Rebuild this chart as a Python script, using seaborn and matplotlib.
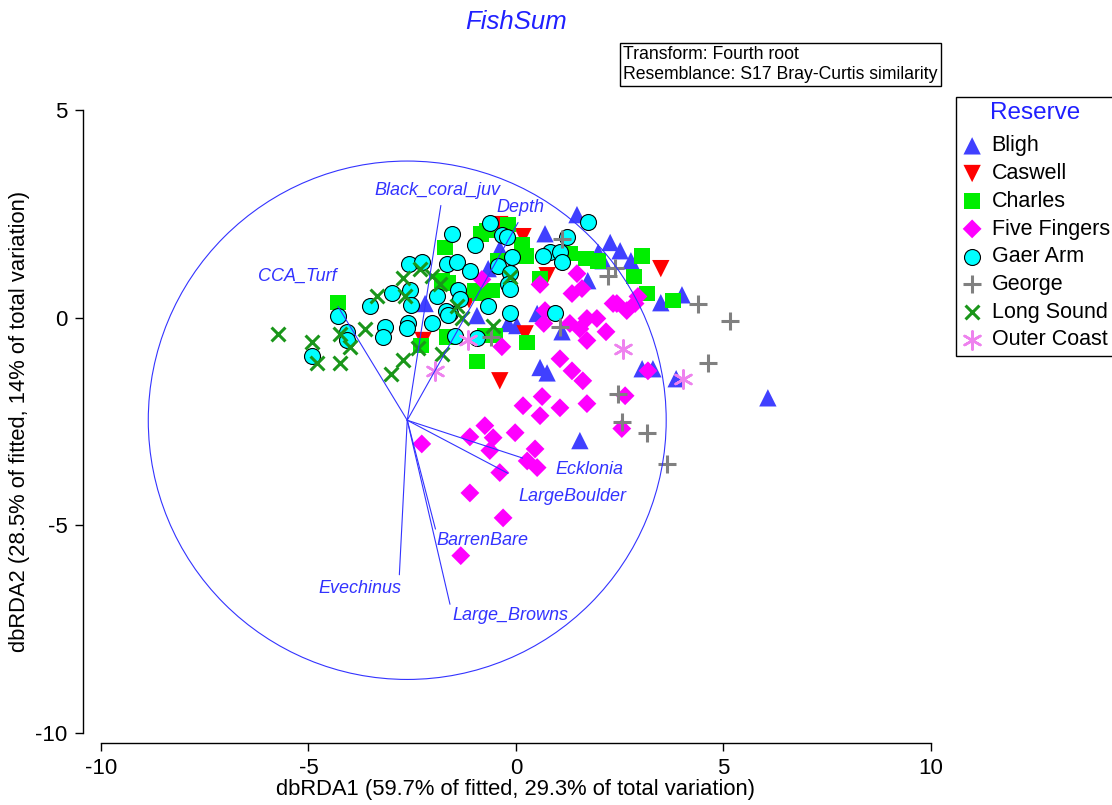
import matplotlib
matplotlib.use("Agg")
import matplotlib.pyplot as plt
from matplotlib.patches import Circle
import pandas as pd
import seaborn as sns

# dbRDA sample scores, one pair of lists per reserve
bligh_x = [-2.19, -0.94, -0.39, -0.67, -0.19, 0.02, 0.51, 1.47, 0.70, 2.27, 2.51, 2.77, 2.10,
           1.73, 3.49, 4.00, 1.11, 0.58, 0.75, 1.54, 6.07, 3.04, 3.30, 3.86, 1.98]
bligh_y = [0.34, 0.05, 1.66, 1.18, -0.14, -0.19, 0.10, 2.48, 2.02, 1.81, 1.61, 1.37, 1.37,
           0.89, 0.36, 0.55, -0.34, -1.20, -1.33, -2.96, -1.93, -1.23, -1.23, -1.47, 1.57]

caswell_x = [-2.24, -0.39, 0.17, 0.75, 3.49, 0.22, -0.39, -1.13]
caswell_y = [-0.55, 2.24, 1.95, 1.01, 1.18, -0.39, -1.52, 0.43]

charles_x = [-4.29, -1.71, -2.29, -1.66, -1.64, -0.99, -0.58, -0.84, -0.19, -0.70, 0.14, 0.24, -0.43,
             -0.87, 0.27, -0.94, -0.75, -0.51, 0.58, 1.30, 1.69, 1.98, 3.04, 2.84, 3.16, 3.78, -1.78]
charles_y = [0.36, 1.69, -0.67, -0.46, 0.84, 0.65, 0.65, 2.02, 2.24, 2.10, 1.76, 1.49, 1.37,
             0.58, -0.60, -1.06, -0.43, -0.43, 0.94, 1.54, 1.42, 1.37, 1.49, 0.99, 0.58, 0.41, 0.89]

five_x = [-0.82, -0.34, 0.58, 1.47, 1.35, 1.59, 2.43, 2.67, 2.87, 2.94, 2.34, 0.67, 1.30, 1.71, 1.95,
          1.54, 2.17, 1.71, 0.70, 1.06, 1.35, 1.61, 0.63, 0.17, 0.58, 1.06, 1.71, -0.75, -1.11, -0.55,
          -0.63, -0.02, 0.46, 0.27, 0.51, -0.39, -2.27, -1.11, -0.31, -1.33, 3.18, 2.63, 2.55]
five_y = [0.92, -0.70, 0.80, 1.06, 0.58, 0.70, 0.34, 0.17, 0.34, 0.51, 0.34, -0.14, -0.14, -0.02, -0.02,
          -0.27, -0.34, -0.55, 0.17, -0.99, -1.28, -1.52, -1.90, -2.12, -2.36, -2.17, -2.07, -2.60, -2.87, -2.89,
          -3.20, -2.77, -3.16, -3.45, -3.61, -3.73, -3.04, -4.22, -4.82, -5.73, -1.28, -1.88, -2.67]

gaer_x = [-4.29, -4.07, -4.07, -4.92, -3.52, -2.99, -3.16, -3.20, -2.58, -2.55, -2.53, -2.60, -2.63,
          -2.27, -1.90, -2.02, -1.59, -1.54, -1.66, -1.42, -1.11, -1.40, -1.35, -1.69, -1.64, -1.47,
          -0.99, -0.63, -0.34, -0.22, -0.67, -0.14, -0.94, -0.43, -0.10, -0.14, -0.19, -0.14, 0.82,
          1.06, 1.11, 0.65, 1.23, 1.73, 0.94]
gaer_y = [0.05, -0.34, -0.55, -0.92, 0.27, 0.60, -0.22, -0.46, 1.28, 0.67, 0.31, -0.12, -0.24,
          1.33, 0.53, -0.14, 0.10, 2.02, 1.30, 1.33, 1.13, 0.67, 0.46, 0.17, 0.07, -0.43,
          1.76, 2.27, 1.98, 1.93, 0.29, 0.12, -0.48, 1.25, 1.45, 1.08, 0.82, 0.70, 1.57,
          1.57, 1.33, 1.49, 1.93, 2.31, 0.10]

george_x = [1.11, 2.22, 2.39, 1.06, -0.60, 4.39, 5.16, 4.63, 2.46, 2.55, 3.16, 3.64]
george_y = [1.90, 1.01, 1.20, -0.22, -0.46, 0.34, -0.07, -1.08, -1.83, -2.51, -2.77, -3.52]

long_x = [-5.73, -4.92, -4.80, -4.24, -4.24, -4.00, -3.64, -3.35, -3.01, -2.72, -2.72, -2.67, -2.31,
          -2.02, -1.83, -1.78, -2.36, -1.42, -1.30, -0.55, -0.14]
long_y = [-0.39, -0.58, -1.08, -0.39, -1.08, -0.70, -0.27, 0.51, -1.35, -1.01, 0.96, 0.51, 1.18,
          1.01, 0.82, -0.87, -0.72, 0.27, -0.02, -0.19, 0.99]

outer_x = [-1.95, -1.16, 2.58, 4.02]
outer_y = [-1.28, -0.55, -0.75, -1.47]

reserves = ["Bligh", "Caswell", "Charles", "Five Fingers", "Gaer Arm", "George", "Long Sound", "Outer Coast"]
xs_all = [bligh_x, caswell_x, charles_x, five_x, gaer_x, george_x, long_x, outer_x]
ys_all = [bligh_y, caswell_y, charles_y, five_y, gaer_y, george_y, long_y, outer_y]

# predictor vectors (end points) and where their labels sit
vec_names = ["CCA_Turf", "Black_coral_juv", "Depth", "Ecklonia", "LargeBoulder", "BarrenBare",
             "Evechinus", "Large_Browns"]
vec_end_x = [-4.29, -1.81, 0.05, 0.16, -0.19, -1.94, -2.81, -1.59]
vec_end_y = [0.27, 2.70, 2.29, -3.38, -3.75, -5.09, -6.19, -6.90]
lab_x = [-5.28, -1.90, 0.10, 1.76, 1.37, -0.80, -3.76, -0.14]
lab_y = [0.99, 3.06, 2.65, -3.66, -4.31, -5.37, -6.51, -7.18]
circle_center = (-2.62, -2.47)
circle_radius = 6.24

rows = []
for name, xs, ys in zip(reserves, xs_all, ys_all):
    rows += [(name, a, b) for a, b in zip(xs, ys)]
df = pd.DataFrame(rows, columns=["Reserve", "dbRDA1", "dbRDA2"])

styles = {
    "Bligh": dict(marker="^", color="#4040ff", s=156, edgecolor="none"),
    "Caswell": dict(marker="v", color="#ff0000", s=156, edgecolor="none"),
    "Charles": dict(marker="s", color="#00ee00", s=125, edgecolor="none"),
    "Five Fingers": dict(marker="D", color="#ff00ff", s=92, edgecolor="none"),
    "Gaer Arm": dict(marker="o", color="#00ffff", s=132, edgecolor="black", linewidth=0.8),
    "George": dict(marker="+", color="#808080", s=170, linewidth=2.2),
    "Long Sound": dict(marker="x", color="#1a961a", s=100, linewidth=2.2),
    "Outer Coast": dict(marker=(6, 2, 0), color="#ee82ee", s=170, linewidth=1.8),
}

sns.set_style("ticks")
plt.rcParams["font.family"] = ["Liberation Sans", "DejaVu Sans"]
plt.rcParams["axes.unicode_minus"] = False
plt.rcParams["text.color"] = "black"
plt.rcParams["axes.labelcolor"] = "black"

blue = "#3333ff"

fig = plt.figure(figsize=(11.12, 8.05), dpi=100)
ax = fig.add_axes([0.0908, 0.0894, 0.7464, 0.7740])

for name in reserves:
    sub = df[df["Reserve"] == name]
    sns.scatterplot(data=sub, x="dbRDA1", y="dbRDA2", ax=ax, label=name, zorder=3, **styles[name])

# vectors and correlation circle
ox, oy = circle_center
for ex, ey in zip(vec_end_x, vec_end_y):
    ax.plot([ox, ex], [oy, ey], color=blue, lw=0.8, zorder=5)
for name, lx, ly in zip(vec_names, lab_x, lab_y):
    ax.text(lx, ly, name, ha="center", va="center", fontsize=13, style="italic", color=blue, zorder=6)
ax.add_patch(Circle(circle_center, circle_radius, fill=False, ec=blue, lw=0.8, zorder=5))

ax.set_xlim(-10, 10)
ax.set_ylim(-10, 5)
ax.set_xticks([-10, -5, 0, 5, 10])
ax.set_yticks([-10, -5, 0, 5])
ax.tick_params(direction="out", length=6, width=1, labelsize=16, pad=5, colors="black")

for side in ["top", "right"]:
    ax.spines[side].set_visible(False)
ax.spines["left"].set_position(("outward", 13))
ax.spines["bottom"].set_position(("outward", 7))
ax.spines["left"].set_bounds(-10, 5)
ax.spines["bottom"].set_bounds(-10, 10)
for side in ["left", "bottom"]:
    ax.spines[side].set_color("black")
    ax.spines[side].set_linewidth(1)

ax.set_xlabel("dbRDA1 (59.7% of fitted, 29.3% of total variation)", fontsize=15.8)
ax.set_ylabel("dbRDA2 (28.5% of fitted, 14% of total variation)", fontsize=15.8)
ax.xaxis.set_label_coords(0.5, -0.074)
ax.yaxis.set_label_coords(-0.085, 0.5)

fig.text(0.464, 0.9727, "FishSum", ha="center", va="center", fontsize=18.5, style="italic", color="#2020ff")
fig.text(0.5603, 0.9429, "Transform: Fourth root\nResemblance: S17 Bray-Curtis similarity",
         ha="left", va="top", fontsize=12.7, linespacing=1.25,
         bbox=dict(boxstyle="square,pad=0.18", fc="white", ec="black", lw=1))

leg = ax.legend(title="Reserve", loc="upper left", bbox_to_anchor=(0.8597, 0.8795),
                bbox_transform=fig.transFigure, fontsize=15.5, title_fontsize=17.5,
                frameon=True, fancybox=False, edgecolor="black", framealpha=1,
                borderaxespad=0, borderpad=0.25, labelspacing=0.31, handlelength=1.0,
                handletextpad=0.4)
leg.get_frame().set_linewidth(1)
leg.get_title().set_color("#2020ff")
leg._legend_box.sep = 8

fig.savefig("out.png", dpi=100)
